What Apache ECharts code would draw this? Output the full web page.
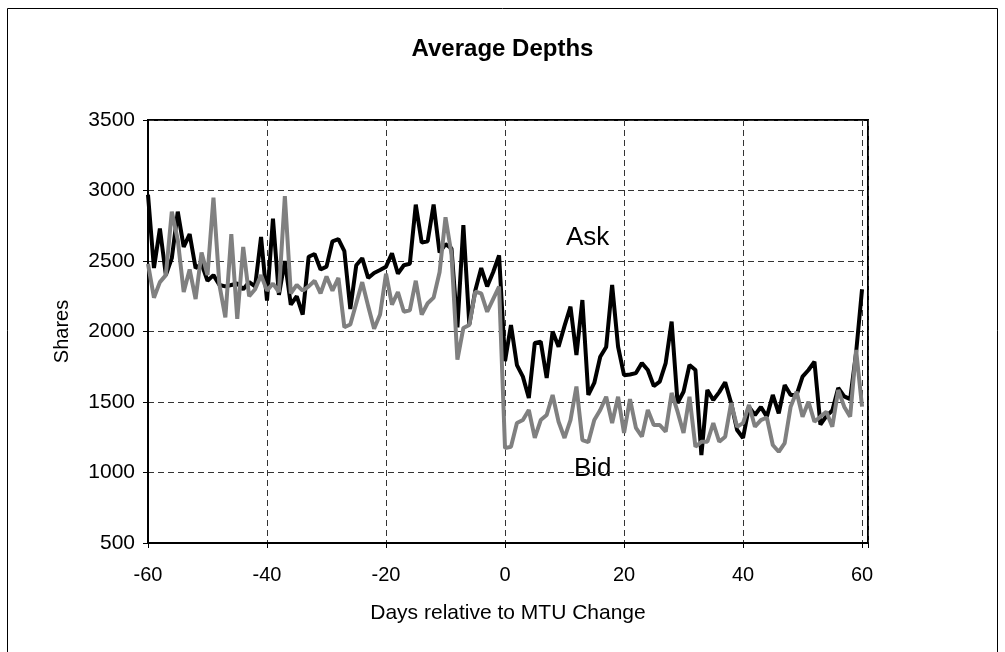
<!DOCTYPE html>
<html>
<head>
<meta charset="utf-8">
<title>Average Depths</title>
<script src="https://cdn.jsdelivr.net/npm/echarts@6/dist/echarts.min.js"></script>
<style>
  html, body { margin: 0; padding: 0; background: #fff; }
  #chart { width: 1005px; height: 652px; }
</style>
</head>
<body>
<div id="chart"></div>
<script>
// days run from -60 to 60, one value per day
const firstDay = -60

// ask depth (shares), days -60 .. 60
const askDepth = [
  2970, 2450, 2730, 2400, 2520, 2850, 2600, 2690, 2450, 2480,
  2360, 2400, 2330, 2320, 2330, 2340, 2300, 2350, 2320, 2670,
  2220, 2800, 2260, 2500, 2190, 2250, 2120, 2530, 2550, 2440,
  2460, 2640, 2655, 2570, 2160, 2470, 2520, 2380, 2415, 2436,
  2460, 2555, 2410, 2470, 2480, 2900, 2630, 2640, 2900, 2560,
  2620, 2590, 2030, 2755, 2050, 2290, 2450, 2320, 2420, 2540,
  1790, 2046, 1762, 1680, 1528, 1918, 1928, 1670, 2000, 1892,
  2040, 2176, 1833, 2223, 1550, 1635, 1821, 1890, 2330, 1892,
  1690, 1695, 1705, 1776, 1727, 1613, 1644, 1776, 2070, 1493,
  1573, 1762, 1727, 1124, 1585, 1514, 1570, 1640, 1493, 1301,
  1245, 1465, 1408, 1465, 1396, 1550, 1420, 1620, 1550, 1550,
  1680, 1727, 1786, 1340, 1400, 1440, 1600, 1540, 1520, 1850,
  2300
]

// bid depth (shares), days -60 .. 60
const bidDepth = [
  2480, 2240, 2350, 2400, 2850, 2650, 2280, 2440, 2230, 2560,
  2400, 2950, 2330, 2100, 2690, 2090, 2600, 2250, 2300, 2400,
  2290, 2340, 2280, 2960, 2270, 2330, 2290, 2320, 2360, 2270,
  2390, 2290, 2380, 2030, 2050, 2200, 2350, 2180, 2020, 2120,
  2410, 2190, 2280, 2140, 2150, 2360, 2120, 2200, 2240, 2420,
  2810, 2550, 1800, 2025, 2046, 2282, 2270, 2140, 2230, 2318,
  1173, 1183, 1351, 1372, 1443, 1245, 1372, 1408, 1550, 1360,
  1245, 1372, 1610, 1230, 1215, 1372, 1443, 1537, 1351, 1537,
  1280, 1521, 1316, 1254, 1443, 1337, 1337, 1290, 1564, 1431,
  1280, 1537, 1183, 1218, 1218, 1351, 1218, 1254, 1493, 1325,
  1350, 1479, 1325, 1372, 1390, 1195, 1147, 1209, 1467, 1573,
  1396, 1502, 1360, 1396, 1430, 1325, 1585, 1467, 1396, 1869,
  1467
]

const seriesNames = ['Ask', 'Bid']

const font = "'Liberation Sans', Arial, sans-serif"
const toPairs = arr => arr.map((v, i) => [firstDay + i, v])

const myChart = echarts.init(document.getElementById('chart'))
myChart.setOption({
  animation: false,
  backgroundColor: '#fff',
  textStyle: { fontFamily: font, color: '#000' },
  title: {
    text: 'Average Depths',
    left: 'center',
    top: 32,
    textStyle: { fontFamily: font, fontSize: 24, fontWeight: 'bold', color: '#000' }
  },
  grid: {
    left: 148,
    right: 137,
    top: 120,
    bottom: 109,
    show: true,
    borderColor: '#000',
    borderWidth: 2
  },
  xAxis: {
    type: 'value',
    min: -60,
    max: 61,
    interval: 20,
    name: 'Days relative to MTU Change',
    nameLocation: 'middle',
    nameGap: 60,
    nameTextStyle: { fontFamily: font, fontSize: 21, color: '#000' },
    axisLine: { onZero: false, lineStyle: { color: '#000', width: 2 } },
    axisTick: { show: true, length: 5, lineStyle: { color: '#000', width: 1 } },
    axisLabel: {
      fontFamily: font,
      fontSize: 20,
      color: '#000',
      margin: 22,
      formatter: v => (v % 20 === 0 ? String(v) : '')
    },
    splitLine: { show: true, lineStyle: { color: '#333', type: [6, 4], width: 1 } }
  },
  yAxis: {
    type: 'value',
    min: 500,
    max: 3500,
    interval: 500,
    name: 'Shares',
    nameLocation: 'middle',
    nameGap: 76,
    nameTextStyle: { fontFamily: font, fontSize: 20, color: '#000' },
    axisLine: { show: true, onZero: false, lineStyle: { color: '#000', width: 2 } },
    axisTick: { show: true, length: 5, lineStyle: { color: '#000', width: 1 } },
    axisLabel: {
      fontFamily: font,
      fontSize: 21,
      color: '#000',
      margin: 13,
      formatter: v => String(v)
    },
    splitLine: { show: true, lineStyle: { color: '#333', type: [6, 4], width: 1 } }
  },
  series: [
    {
      name: seriesNames[0],
      type: 'line',
      data: toPairs(askDepth),
      showSymbol: false,
      lineStyle: { color: '#000', width: 4 },
      itemStyle: { color: '#000' },
      z: 3
    },
    {
      name: seriesNames[1],
      type: 'line',
      data: toPairs(bidDepth),
      showSymbol: false,
      lineStyle: { color: '#808080', width: 4 },
      itemStyle: { color: '#808080' },
      z: 4
    }
  ],
  graphic: [
    // outer frame of the picture
    {
      type: 'rect',
      shape: { x: 7.5, y: 8.5, width: 990, height: 660 },
      style: { fill: 'none', stroke: '#000', lineWidth: 1 },
      silent: true
    },
    {
      type: 'text',
      left: 566,
      top: 225,
      style: { text: seriesNames[0], font: '26px ' + font, fill: '#000' }
    },
    {
      type: 'text',
      left: 574,
      top: 456,
      style: { text: seriesNames[1], font: '26px ' + font, fill: '#000' }
    }
  ]
})
</script>
</body>
</html>
